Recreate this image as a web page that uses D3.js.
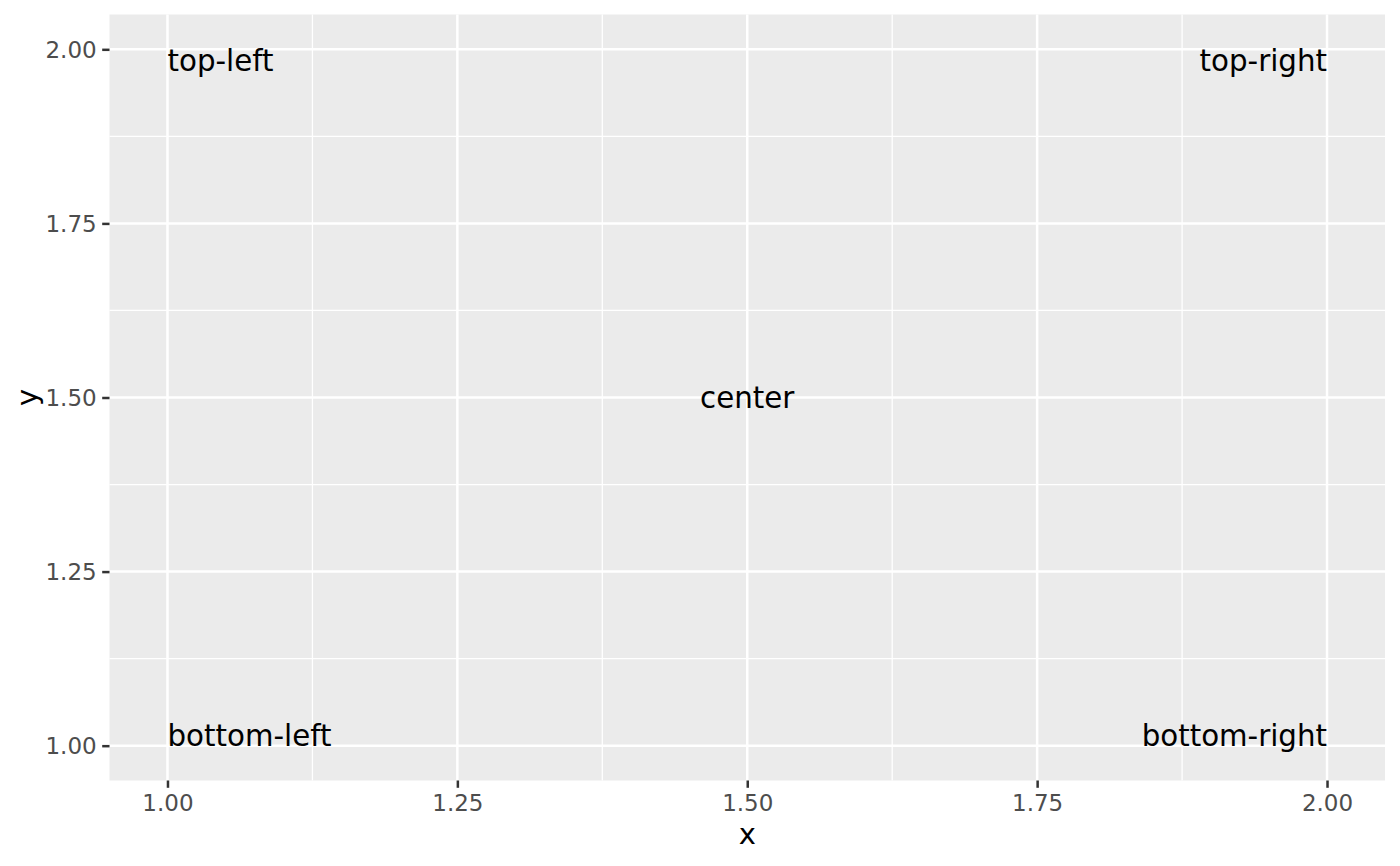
<!DOCTYPE html>
<html>
<head>
<meta charset="utf-8">
<script src="https://cdn.jsdelivr.net/npm/d3@7"></script>
<style>
  html, body { margin: 0; padding: 0; background: #fff; }
  text { font-family: "DejaVu Sans", sans-serif; }
</style>
</head>
<body>
<svg id="chart" width="1400" height="866"></svg>
<script>
// ---- data ----
const labels = ["top-left", "top-right", "bottom-left", "bottom-right", "center"];
const xs = [1, 2, 1, 2, 1.5];
const ys = [2, 2, 1, 1, 1.5];
const hjusts = [0, 1, 0, 1, 0.5];
const vjusts = [1, 1, 0, 0, 0.5];
const xTicks = [1.00, 1.25, 1.50, 1.75, 2.00];
const yTicks = [1.00, 1.25, 1.50, 1.75, 2.00];
const xMinor = [1.125, 1.375, 1.625, 1.875];
const yMinor = [1.125, 1.375, 1.625, 1.875];
const xTitle = "x";
const yTitle = "y";

// ---- layout ----
const W = 1400, H = 866;
const panel = { left: 109.5, right: 1385, top: 14.5, bottom: 780.5 };
const svg = d3.select("#chart");

const expand = 0.05;
const x = d3.scaleLinear().domain([1 - expand, 2 + expand]).range([panel.left, panel.right]);
const y = d3.scaleLinear().domain([1 - expand, 2 + expand]).range([panel.bottom, panel.top]);

// panel background
svg.append("rect")
  .attr("x", panel.left).attr("y", panel.top)
  .attr("width", panel.right - panel.left).attr("height", panel.bottom - panel.top)
  .attr("fill", "#EBEBEB");

const grid = svg.append("g");
// minor grid
grid.selectAll("line.vminor").data(xMinor).join("line")
  .attr("x1", d => x(d)).attr("x2", d => x(d))
  .attr("y1", panel.top).attr("y2", panel.bottom)
  .attr("stroke", "#fff").attr("stroke-width", 1.3);
grid.selectAll("line.hminor").data(yMinor).join("line")
  .attr("y1", d => y(d)).attr("y2", d => y(d))
  .attr("x1", panel.left).attr("x2", panel.right)
  .attr("stroke", "#fff").attr("stroke-width", 1.3);
// major grid
grid.selectAll("line.vmajor").data(xTicks).join("line")
  .attr("x1", d => x(d)).attr("x2", d => x(d))
  .attr("y1", panel.top).attr("y2", panel.bottom)
  .attr("stroke", "#fff").attr("stroke-width", 2.5);
grid.selectAll("line.hmajor").data(yTicks).join("line")
  .attr("y1", d => y(d)).attr("y2", d => y(d))
  .attr("x1", panel.left).attr("x2", panel.right)
  .attr("stroke", "#fff").attr("stroke-width", 2.5);

// axes
const fmt = d3.format(".2f");
const xAxis = d3.axisBottom(x).tickValues(xTicks).tickFormat(fmt).tickSize(7.3).tickPadding(5.5);
const yAxis = d3.axisLeft(y).tickValues(yTicks).tickFormat(fmt).tickSize(7.3).tickPadding(5.5);

const gx = svg.append("g").attr("transform", `translate(0,${panel.bottom})`).call(xAxis);
const gy = svg.append("g").attr("transform", `translate(${panel.left},0)`).call(yAxis);
[gx, gy].forEach(g => {
  g.select(".domain").remove();
  g.selectAll(".tick line").attr("stroke", "#333333").attr("stroke-width", 2.5);
  g.selectAll(".tick text")
    .attr("fill", "#4D4D4D")
    .style("font-family", "'DejaVu Sans', sans-serif")
    .style("font-size", "23px");
});
gx.selectAll(".tick text").attr("dy", null).attr("y", 30);
gy.selectAll(".tick text").attr("dy", "0.36em");

// axis titles
svg.append("text")
  .attr("x", (panel.left + panel.right) / 2).attr("y", 844)
  .attr("text-anchor", "middle")
  .style("font-size", "29px").attr("fill", "#000")
  .text(xTitle);
svg.append("text")
  .attr("transform", `translate(37,${(panel.top + panel.bottom) / 2}) rotate(-90)`)
  .attr("text-anchor", "middle")
  .style("font-size", "29px").attr("fill", "#000")
  .text(yTitle);

// labels
const fs = 29.3;
const capH = 0.74 * fs;
const anchors = { 0: "start", 0.5: "middle", 1: "end" };
svg.append("g").selectAll("text").data(labels).join("text")
  .attr("x", (d, i) => x(xs[i]))
  .attr("y", (d, i) => y(ys[i]) + capH * vjusts[i])
  .attr("text-anchor", (d, i) => anchors[hjusts[i]])
  .style("font-size", fs + "px")
  .attr("fill", "#000")
  .text(d => d);
</script>
</body>
</html>
